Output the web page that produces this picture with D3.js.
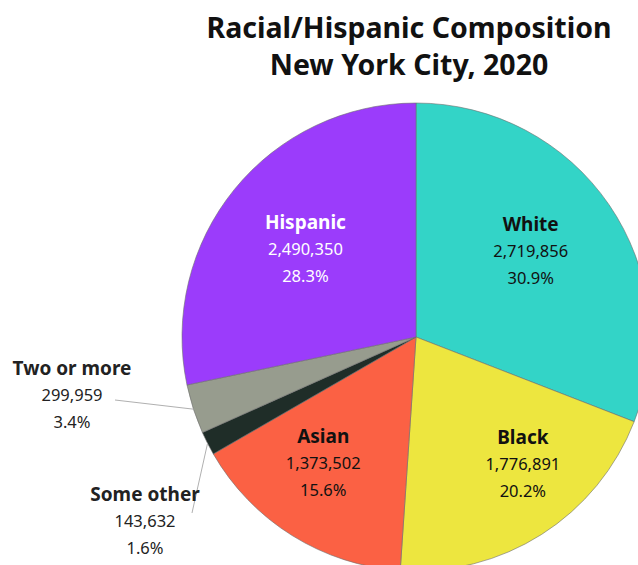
<!DOCTYPE html>
<html>
<head>
<meta charset="utf-8">
<script src="https://cdn.jsdelivr.net/npm/d3@7"></script>
<style>
    body { margin: 0; background: #fff; }
    svg { display: block; font-family: "Noto Sans", "Open Sans", sans-serif; }
</style>
</head>
<body>
<div id="chart"></div>
<script>

// data
let groups = ["White", "Black", "Asian", "Some other", "Two or more", "Hispanic"];
let counts = [2719856, 1776891, 1373502, 143632, 299959, 2490350];
let shares = ["30.9%", "20.2%", "15.6%", "1.6%", "3.4%", "28.3%"];
let colors = ["#33d4c7", "#ede63f", "#fb6144", "#1f2d28", "#979c8e", "#9b3cfb"];

let width = 638, height = 565;
let cx = 416, cy = 337, radius = 234;

// label tweaks (layout only)
let inside = {
    "White":    {dx: -5, dy: -4, fill: "#111"},
    "Black":    {dx: 29, dy: 5, fill: "#111"},
    "Asian":    {dx: -16, dy: 3, fill: "#111"},
    "Hispanic": {dx: 2, dy: 4, fill: "#fff"}
};
let outside = {
    "Two or more": {x: 72, y: 395, lineStart: [115, 400]},
    "Some other":  {x: 145, y: 521, lineStart: [192, 513]}
};

let data = groups.map((g, i) => ({name: g, value: counts[i], share: shares[i], color: colors[i]}));

let svg = d3.select("#chart").append("svg")
    .attr("width", width)
    .attr("height", height);

// title
let title = svg.append("text")
    .attr("text-anchor", "middle")
    .attr("font-weight", "bold")
    .attr("font-size", 28.5)
    .attr("fill", "#111");
title.append("tspan").attr("x", 409).attr("y", 38).text("Racial/Hispanic Composition");
title.append("tspan").attr("x", 409).attr("y", 75).text("New York City, 2020");

let pie = d3.pie()
    .value(d => d.value)
    .sort(null);

let arcs = pie(data);

let arc = d3.arc()
    .innerRadius(0)
    .outerRadius(radius);

let labelArc = d3.arc()
    .innerRadius(radius * 0.62)
    .outerRadius(radius * 0.62);

let edgeArc = d3.arc()
    .innerRadius(radius)
    .outerRadius(radius);

let g = svg.append("g")
    .attr("transform", `translate(${cx}, ${cy})`);

g.selectAll(".slice")
    .data(arcs)
    .join("path")
    .attr("class", "slice")
    .attr("d", arc)
    .attr("fill", d => d.data.color)
    .attr("stroke", "#6f6f6f")
    .attr("stroke-width", 0.6);

function labelBlock(sel, x, y, d, fill) {
    let t = sel.append("text")
        .attr("text-anchor", "middle")
        .attr("font-size", 16.5)
        .attr("fill", fill);
    t.append("tspan").attr("x", x).attr("y", y - 27).attr("dy", "0.35em")
        .attr("font-weight", "bold").attr("font-size", 19).text(d.name);
    t.append("tspan").attr("x", x).attr("y", y).attr("dy", "0.35em")
        .text(d3.format(",")(d.value));
    t.append("tspan").attr("x", x).attr("y", y + 27).attr("dy", "0.35em")
        .text(d.share);
}

// inside labels
arcs.filter(d => inside[d.data.name]).forEach(d => {
    let c = labelArc.centroid(d);
    let o = inside[d.data.name];
    labelBlock(g, c[0] + o.dx, c[1] + o.dy, d.data, o.fill);
});

// outside labels with leader lines
arcs.filter(d => outside[d.data.name]).forEach(d => {
    let o = outside[d.data.name];
    let e = edgeArc.centroid(d);
    svg.append("line")
        .attr("x1", o.lineStart[0])
        .attr("y1", o.lineStart[1])
        .attr("x2", cx + e[0])
        .attr("y2", cy + e[1])
        .attr("stroke", "#b0b0b0")
        .attr("stroke-width", 1);
    labelBlock(svg, o.x, o.y, d.data, "#222");
});

</script>
</body>
</html>
